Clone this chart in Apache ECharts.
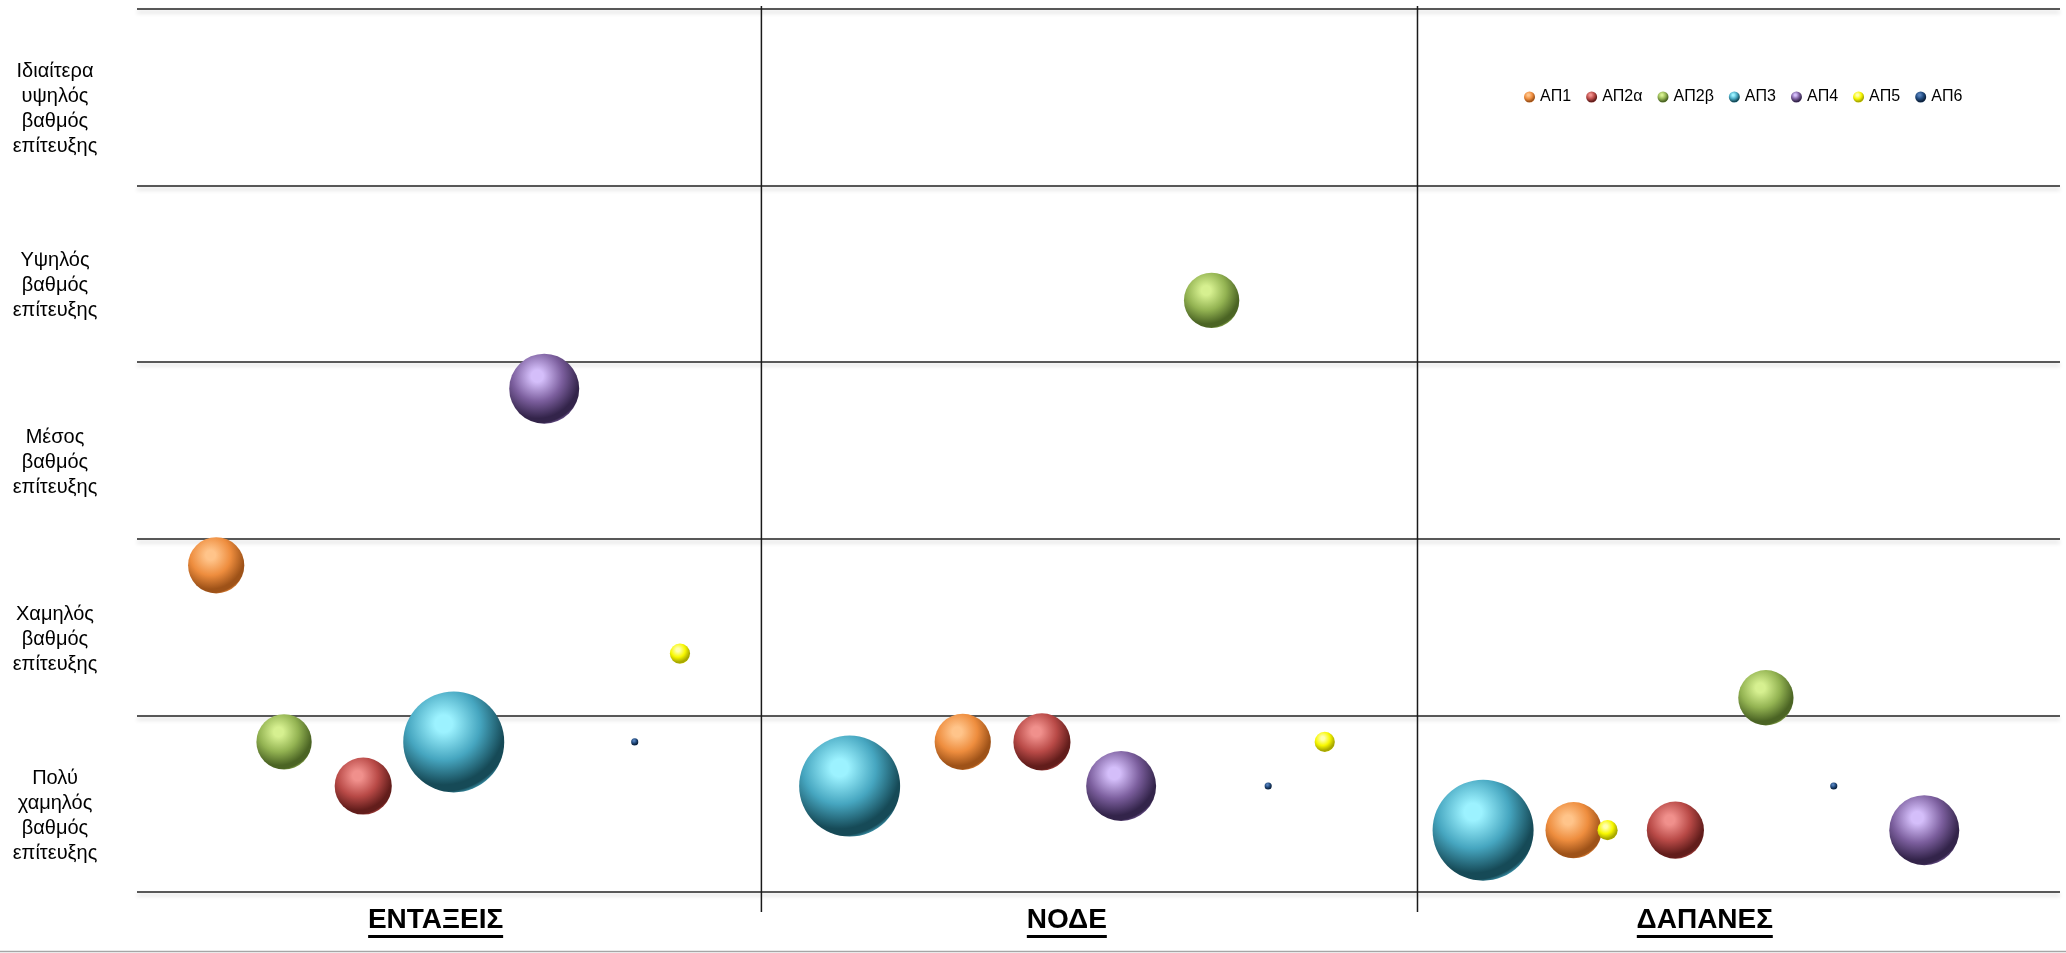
<!DOCTYPE html>
<html><head><meta charset="utf-8">
<script src="https://cdn.jsdelivr.net/npm/echarts@6/dist/echarts.min.js"></script>
<style>html,body{margin:0;padding:0;background:#fff;}#c{width:2066px;height:953px;}</style>
</head><body><div id="c"></div>
<script>
// ---- data ----
const seriesNames = ['ΑΠ1', 'ΑΠ2α', 'ΑΠ2β', 'ΑΠ3', 'ΑΠ4', 'ΑΠ5', 'ΑΠ6'];
const categories = ['ΕΝΤΑΞΕΙΣ', 'ΝΟΔΕ', 'ΔΑΠΑΝΕΣ'];
const categoryCenters = [13.2, 41.1, 69.3];
const dividerX = [27.6, 56.6];
const levelLabels = [
  'Πολύ\nχαμηλός\nβαθμός\nεπίτευξης',
  'Χαμηλός\nβαθμός\nεπίτευξης',
  'Μέσος\nβαθμός\nεπίτευξης',
  'Υψηλός\nβαθμός\nεπίτευξης',
  'Ιδιαίτερα\nυψηλός\nβαθμός\nεπίτευξης'
];
// [x, y] for ΕΝΤΑΞΕΙΣ, ΝΟΔΕ, ΔΑΠΑΝΕΣ
const ap1  = [[3.5, 1.85], [36.5, 0.85], [63.5, 0.35]];
const ap2a = [[10, 0.6],   [40, 0.85],   [68, 0.35]];
const ap2b = [[6.5, 0.85], [47.5, 3.35], [72, 1.1]];
const ap3  = [[14, 0.85],  [31.5, 0.6],  [59.5, 0.35]];
const ap4  = [[18, 2.85],  [43.5, 0.6],  [79, 0.35]];
const ap5  = [[24, 1.35],  [52.5, 0.85], [65, 0.35]];
const ap6  = [[22, 0.85],  [50, 0.6],    [75, 0.6]];
const bubbleSizes = [31, 32, 30, 100, 48, 4, 0.5];

// ---- styles ----
const seriesData = [ap1, ap2a, ap2b, ap3, ap4, ap5, ap6];
const palette = [
  ['#FFC48A', '#EE8D3E', '#9E5218'],
  ['#F0908C', '#B94A47', '#621D1B'],
  ['#D6F090', '#93B352', '#4B6424'],
  ['#9CF2FF', '#46A6C0', '#164A57'],
  ['#D4BEFA', '#7C5F9E', '#33244A'],
  ['#FFFFB0', '#F8F800', '#A8A800'],
  ['#5580BA', '#1F497D', '#0D213B']
];
const FONT = "'Liberation Sans', Arial, sans-serif";
const CAT_FONT_SIZE = 28;

function grad(c) {
  return new echarts.graphic.RadialGradient(0.4, 0.32, 0.72, [
    { offset: 0, color: c[0] },
    { offset: 0.12, color: c[0] },
    { offset: 0.5, color: c[1] },
    { offset: 0.84, color: c[2] },
    { offset: 0.93, color: c[2] },
    { offset: 1, color: c[1] }
  ]);
}

// measure category label widths for the underline
const mctx = document.createElement('canvas').getContext('2d');
mctx.font = 'bold ' + CAT_FONT_SIZE + 'px ' + FONT;
const catRich = {
  t: { fontFamily: FONT, fontSize: CAT_FONT_SIZE, fontWeight: 'bold', color: '#000', lineHeight: 30 }
};
categories.forEach((c, i) => {
  catRich['u' + i] = { height: 3, width: Math.round(mctx.measureText(c).width), backgroundColor: '#000' };
});

const chart = echarts.init(document.getElementById('c'), null, { renderer: 'canvas' });

const series = seriesNames.map((name, i) => ({
  name: name,
  type: 'scatter',
  xAxisIndex: 0,
  yAxisIndex: 0,
  clip: false,
  data: seriesData[i].map(p => [p[0], p[1], bubbleSizes[i]]),
  symbol: 'circle',
  symbolSize: d => 10.1 * Math.sqrt(d[2]),
  itemStyle: { color: grad(palette[i]), opacity: 1 },
  emphasis: { disabled: true },
  z: 3
}));

dividerX.forEach(x => {
  series.push({
    name: 'divider',
    type: 'line',
    clip: false,
    silent: true,
    symbol: 'none',
    data: [[x, -0.113], [x, 5.017]],
    lineStyle: { color: '#1a1a1a', width: 1.5 },
    z: 1
  });
});

function nearestIdx(v) {
  let best = 0;
  categoryCenters.forEach((c, i) => { if (Math.abs(c - v) < Math.abs(categoryCenters[best] - v)) best = i; });
  return best;
}

chart.setOption({
  animation: false,
  backgroundColor: '#ffffff',
  textStyle: { fontFamily: FONT },
  grid: { left: 137, right: 6, top: 9, bottom: 61, containLabel: false },
  legend: {
    data: seriesNames,
    left: 1519,
    top: 84,
    icon: 'circle',
    itemWidth: 11,
    itemHeight: 11,
    itemGap: 15,
    textStyle: { fontFamily: FONT, fontSize: 16, color: '#000' }
  },
  xAxis: {
    type: 'value',
    min: 0,
    max: 85,
    axisLine: { show: false },
    axisTick: { show: false },
    splitLine: { show: false },
    axisLabel: {
      customValues: categoryCenters,
      margin: 13,
      formatter: v => { const i = nearestIdx(v); return '{t|' + categories[i] + '}\n{u' + i + '|}'; },
      rich: catRich
    }
  },
  yAxis: [
    {
      type: 'value',
      position: 'left',
      min: 0,
      max: 5,
      interval: 1,
      axisLine: { show: false },
      axisTick: { show: false },
      axisLabel: { show: false },
      splitLine: {
        show: true,
        lineStyle: {
          color: '#222222',
          width: 1.6,
          shadowColor: 'rgba(0,0,0,0.22)',
          shadowBlur: 4,
          shadowOffsetY: 3
        }
      }
    },
    {
      type: 'category',
      position: 'left',
      data: levelLabels,
      boundaryGap: true,
      axisLine: { show: false },
      axisTick: { show: false },
      splitLine: { show: false },
      axisLabel: {
        interval: 0,
        margin: 82,
        align: 'center',
        fontFamily: FONT,
        fontSize: 20,
        lineHeight: 25,
        color: '#000',
        formatter: v => '{s|}\n' + v,
        rich: { s: { height: 24, lineHeight: 24 } }
      }
    }
  ],
  graphic: [
    {
      type: 'line',
      silent: true,
      shape: { x1: 0, y1: 951.5, x2: 2066, y2: 951.5 },
      style: { stroke: '#a6a6a6', lineWidth: 1.5 }
    }
  ],
  series: series
});
</script>
</body></html>
